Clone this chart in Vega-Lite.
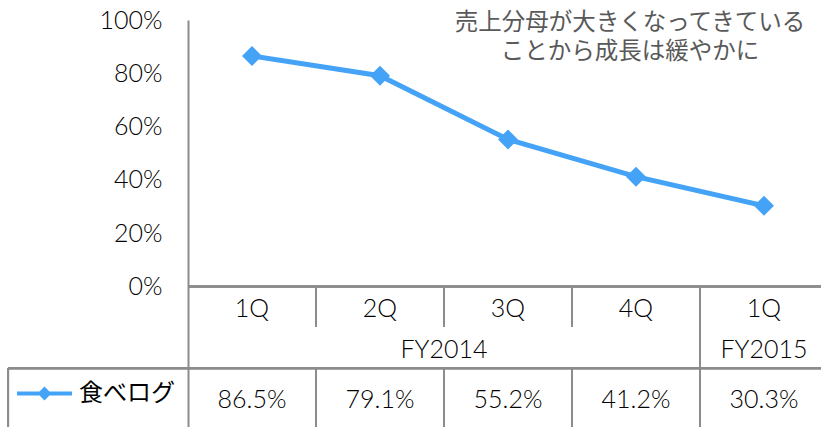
{
  "$schema": "https://vega.github.io/schema/vega-lite/v6.json",
  "width": 821,
  "height": 407,
  "autosize": {"type": "none"},
  "padding": {"left": 0, "top": 20, "right": 0, "bottom": 0},
  "background": "white",
  "config": {
    "view": {"stroke": null},
    "text": {"font": "Lato", "fontSize": 25, "fontWeight": 300, "color": "black"}
  },
  "datasets": {
    "main": [
      {"i": 0, "period": "1Q", "fy": "FY2014", "series": "食べログ", "value": 0.865},
      {"i": 1, "period": "2Q", "fy": "FY2014", "series": "食べログ", "value": 0.791},
      {"i": 2, "period": "3Q", "fy": "FY2014", "series": "食べログ", "value": 0.552},
      {"i": 3, "period": "4Q", "fy": "FY2014", "series": "食べログ", "value": 0.412},
      {"i": 4, "period": "1Q", "fy": "FY2015", "series": "食べログ", "value": 0.303}
    ],
    "note": [
      {"note": "売上分母が大きくなってきている\nことから成長は緩やかに"}
    ]
  },
  "layer": [
    {
      "data": {"name": "main"},
      "mark": {"type": "rule", "color": "#8c8c8c", "strokeWidth": 2},
      "encoding": {
        "x": {"datum": -0.5, "type": "quantitative", "scale": {"domain": [-1.96875, 4.4453125], "nice": false, "zero": false}, "axis": null},
        "x2": {"datum": 4.4453125},
        "y": {"datum": 0, "type": "quantitative", "scale": {"domain": [-0.5272, 1], "nice": false, "zero": false},
          "axis": {"values": [0, 0.2, 0.4, 0.6, 0.8, 1], "format": ".0%", "title": null, "grid": false, "ticks": false,
            "labelFont": "Lato", "labelFontSize": 25, "labelFontWeight": 300, "labelColor": "black", "labelPadding": 26,
            "domainColor": "#8c8c8c", "domainWidth": 2, "offset": -188}}
      }
    },
    {
      "data": {"name": "main"},
      "mark": {"type": "rule", "color": "#8c8c8c", "strokeWidth": 2},
      "encoding": {
        "x": {"datum": -1.906, "type": "quantitative"},
        "x2": {"datum": 4.4453125},
        "y": {"datum": -0.307, "type": "quantitative"}
      }
    },
    {
      "data": {"name": "main"},
      "mark": {"type": "rule", "color": "#8c8c8c", "strokeWidth": 2},
      "encoding": {
        "x": {"datum": -1.906, "type": "quantitative"},
        "y": {"datum": -0.307, "type": "quantitative"},
        "y2": {"datum": -0.5272}
      }
    },
    {
      "data": {"name": "main"},
      "transform": [{"filter": "datum.i <= 2"}],
      "mark": {"type": "rule", "color": "#8c8c8c", "strokeWidth": 2, "xOffset": 64},
      "encoding": {
        "x": {"field": "i", "type": "quantitative"},
        "y": {"datum": 0, "type": "quantitative"},
        "y2": {"datum": -0.152}
      }
    },
    {
      "data": {"name": "main"},
      "transform": [{"filter": "datum.i <= 2"}],
      "mark": {"type": "rule", "color": "#8c8c8c", "strokeWidth": 2, "xOffset": 64},
      "encoding": {
        "x": {"field": "i", "type": "quantitative"},
        "y": {"datum": -0.307, "type": "quantitative"},
        "y2": {"datum": -0.5272}
      }
    },
    {
      "data": {"name": "main"},
      "transform": [{"filter": "datum.i == 3"}],
      "mark": {"type": "rule", "color": "#8c8c8c", "strokeWidth": 2, "xOffset": 64},
      "encoding": {
        "x": {"field": "i", "type": "quantitative"},
        "y": {"datum": 0, "type": "quantitative"},
        "y2": {"datum": -0.5272}
      }
    },
    {
      "data": {"name": "main"},
      "mark": {"type": "text", "baseline": "middle", "align": "center"},
      "encoding": {
        "x": {"field": "i", "type": "quantitative"},
        "y": {"datum": -0.0844, "type": "quantitative"},
        "text": {"field": "period"}
      }
    },
    {
      "data": {"name": "main"},
      "transform": [{"aggregate": [{"op": "mean", "field": "i", "as": "c"}], "groupby": ["fy"]}],
      "mark": {"type": "text", "baseline": "middle", "align": "center"},
      "encoding": {
        "x": {"field": "c", "type": "quantitative"},
        "y": {"datum": -0.238, "type": "quantitative"},
        "text": {"field": "fy"}
      }
    },
    {
      "data": {"name": "main"},
      "mark": {"type": "text", "baseline": "middle", "align": "center"},
      "encoding": {
        "x": {"field": "i", "type": "quantitative"},
        "y": {"datum": -0.426, "type": "quantitative"},
        "text": {"field": "value", "format": ".1%"}
      }
    },
    {
      "data": {"name": "note"},
      "mark": {"type": "text", "baseline": "middle", "align": "center", "lineBreak": "\n", "lineHeight": 29,
        "font": "Noto Sans CJK JP", "fontSize": 23.5, "fontWeight": 400, "color": "#595959"},
      "encoding": {
        "x": {"datum": 2.953, "type": "quantitative"},
        "y": {"datum": 0.989, "type": "quantitative"},
        "text": {"field": "note"}
      }
    },
    {
      "data": {"name": "main"},
      "mark": {"type": "line", "strokeWidth": 5},
      "encoding": {
        "x": {"field": "i", "type": "quantitative"},
        "y": {"field": "value", "type": "quantitative"},
        "color": {"field": "series", "type": "nominal", "scale": {"range": ["#45A3F7"]},
          "legend": {"title": null, "orient": "none", "legendX": 15, "legendY": 344, "padding": 0,
            "symbolType": "M-1,0L1,0M-0.15,0L0,-0.15L0.15,0L0,0.15Z", "symbolSize": 3025,
            "symbolStrokeWidth": 4, "labelFont": "Noto Sans CJK JP", "labelFontSize": 24, "labelColor": "black",
            "labelOffset": 5, "labelLimit": 0,
            "encode": {"symbols": {"update": {"fill": {"value": "#45A3F7"}, "stroke": {"value": "#45A3F7"}, "strokeWidth": {"value": 4}, "opacity": {"value": 1}}}}}}
      }
    },
    {
      "data": {"name": "main"},
      "mark": {"type": "point", "shape": "diamond", "filled": true, "size": 400, "opacity": 1},
      "encoding": {
        "x": {"field": "i", "type": "quantitative"},
        "y": {"field": "value", "type": "quantitative"},
        "color": {"field": "series", "type": "nominal"}
      }
    }
  ]
}
